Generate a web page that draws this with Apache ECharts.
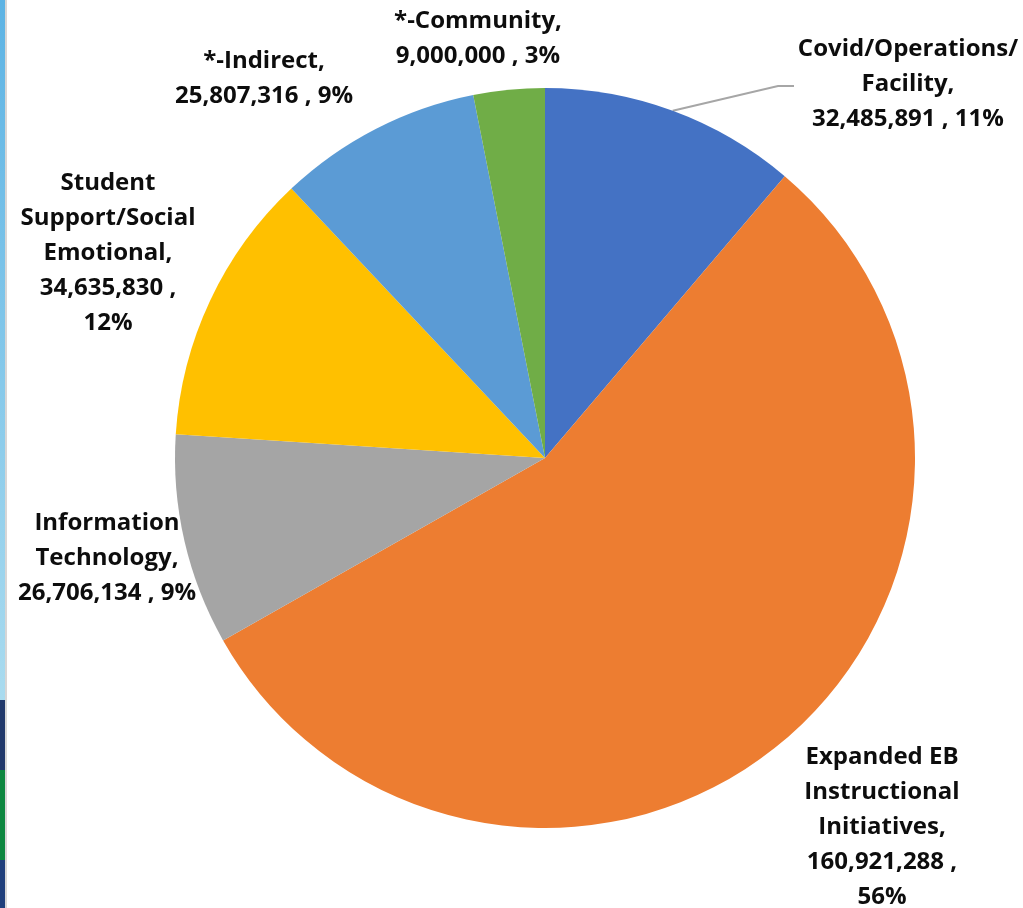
<!DOCTYPE html>
<html>
<head>
<meta charset="utf-8">
<script src="https://cdn.jsdelivr.net/npm/echarts@6/dist/echarts.min.js"></script>
<style>
html,body{margin:0;padding:0;background:#fff;}
#chart{width:1023px;height:908px;}
</style>
</head>
<body>
<div id="chart"></div>
<script>
// ---- data ----
var categories = ['Covid/Operations/Facility', 'Expanded EB Instructional Initiatives', 'Information Technology', 'Student Support/Social Emotional', '*-Indirect', '*-Community'];
var values = [32485891, 160921288, 26706134, 34635830, 25807316, 9000000];
var colors = ['#4472C4', '#ED7D31', '#A5A5A5', '#FFC000', '#5B9BD5', '#70AD47'];

// ---- label layout (text wrapping and placement) ----
var labelNameLines = [
  ['Covid/Operations/', 'Facility,'],
  ['Expanded EB', 'Instructional', 'Initiatives,'],
  ['Information', 'Technology,'],
  ['Student', 'Support/Social', 'Emotional,'],
  ['*-Indirect,'],
  ['*-Community,']
];
var valueOnOwnLine = [false, true, false, true, false, false];
var labelCenters = [[908, 84], [882, 827], [107, 558], [108, 253], [264, 79], [478, 39]];

function fmt(n) { return n.toString().replace(/\B(?=(\d{3})+(?!\d))/g, ','); }

var chart = echarts.init(document.getElementById('chart'), null, {renderer: 'canvas'});

var data = categories.map(function (c, i) {
  return {
    name: c,
    value: values[i],
    itemStyle: {color: colors[i]},
    labelLine: {show: i === 0}
  };
});

chart.setOption({
  animation: false,
  backgroundColor: '#ffffff',
  graphic: [
    {type: 'rect', shape: {x: 0, y: 0, width: 5, height: 700}, style: {fill: new echarts.graphic.LinearGradient(0, 0, 0, 1, [{offset: 0, color: '#5cb3e4'}, {offset: 1, color: '#a9dbef'}])}},
    {type: 'rect', shape: {x: 0, y: 700, width: 5, height: 70}, style: {fill: '#20386b'}},
    {type: 'rect', shape: {x: 0, y: 770, width: 5, height: 90}, style: {fill: '#0d8740'}},
    {type: 'rect', shape: {x: 0, y: 860, width: 5, height: 48}, style: {fill: '#1f3f7c'}},
    {type: 'rect', shape: {x: 5, y: 0, width: 2, height: 908}, style: {fill: '#d6d6d6'}}
  ],
  series: [{
    type: 'pie',
    center: [545, 458],
    radius: 370,
    startAngle: 90,
    clockwise: true,
    avoidLabelOverlap: false,
    itemStyle: {borderWidth: 0},
    label: {
      show: true,
      position: 'outside',
      fontFamily: 'Open Sans',
      fontWeight: 'bold',
      fontSize: 24,
      lineHeight: 35,
      color: '#0d0d0d',
      formatter: function (p) {
        var i = p.dataIndex;
        var lines = labelNameLines[i].slice();
        var v = fmt(p.value);
        var pct = Math.round(p.percent) + '%';
        if (valueOnOwnLine[i]) { lines.push(v + ' ,'); lines.push(pct); }
        else { lines.push(v + ' , ' + pct); }
        return lines.join('\n');
      }
    },
    labelLine: {
      show: true,
      lineStyle: {color: '#a6a6a6', width: 2}
    },
    labelLayout: function (params) {
      var i = params.dataIndex;
      var c = labelCenters[i];
      var res = {x: c[0], y: c[1], align: 'center', verticalAlign: 'middle'};
      if (i === 0 && params.labelLinePoints) {
        var p0 = params.labelLinePoints[0];
        res.labelLinePoints = [p0, [778, 86], [794, 86]];
      }
      return res;
    },
    data: data
  }]
});
</script>
</body>
</html>
